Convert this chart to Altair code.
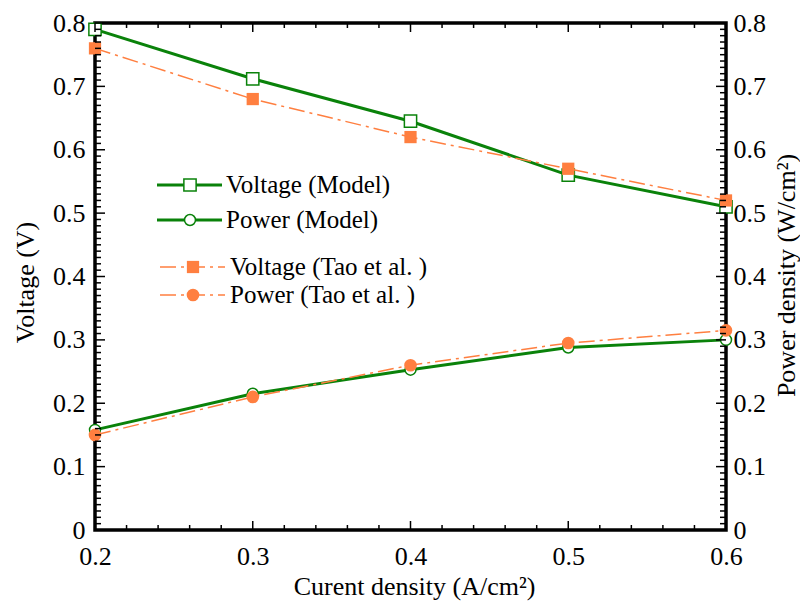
import altair as alt
import pandas as pd

# ---------------- data ----------------
current = [0.2, 0.3, 0.4, 0.5, 0.6]
voltage_model = [0.790, 0.712, 0.645, 0.560, 0.510]
power_model = [0.158, 0.215, 0.253, 0.288, 0.300]
voltage_tao = [0.760, 0.680, 0.620, 0.570, 0.520]
power_tao = [0.150, 0.210, 0.260, 0.295, 0.315]

x_major = [0.2, 0.3, 0.4, 0.5, 0.6]
x_minor = [0.22, 0.24, 0.26, 0.28, 0.32, 0.34, 0.36, 0.38,
           0.42, 0.44, 0.46, 0.48, 0.52, 0.54, 0.56, 0.58]
y_major = [0.0, 0.1, 0.2, 0.3, 0.4, 0.5, 0.6, 0.7, 0.8]
y_minor = [round(i / 100, 2) for i in range(1, 80) if i % 10 != 0]

legend_labels = ["Voltage (Model)", "Power (Model)",
                 "Voltage (Tao et al. )", "Power (Tao et al. )"]

# ---------------- styling ----------------
W, H = 631, 507
GREEN = "#0a820a"
ORANGE = "#ff7f40"
FONT = "Liberation Serif"
DASH = [16, 5, 3, 5]
LFS = 26   # tick label font size
TFS = 26   # axis title font size

df = pd.DataFrame({
    "current": current,
    "vm": voltage_model,
    "pm": power_model,
    "vt": voltage_tao,
    "pt": power_tao,
})

xs = alt.Scale(domain=[0.2, 0.6], nice=False, zero=False)
ys = alt.Scale(domain=[0.0, 0.8], nice=False, zero=False)
LABEL_EXPR = "datum.value == 0 ? '0' : format(datum.value, '.1f')"

common = dict(ticks=False, tickSize=0, domain=False, grid=False,
              labelFont=FONT, labelFontSize=LFS, labelColor="black",
              labelFlush=False, labelOverlap=False,
              titleFont=FONT, titleFontSize=TFS, titleFontWeight="normal",
              titleColor="black")

x_axis = alt.Axis(values=x_major, format=".1f", labelPadding=13,
                  title="Curent density (A/cm²)", titleX=319, titleY=64,
                  titleBaseline="alphabetic", titleAlign="center", **common)
left_axis = alt.Axis(orient="left", values=y_major, labelExpr=LABEL_EXPR,
                     labelPadding=10, title="Voltage (V)", titleAngle=270,
                     titleX=-62, titleY=259, titleBaseline="alphabetic",
                     titleAlign="center", **common)
right_axis = alt.Axis(orient="right", values=y_major, labelExpr=LABEL_EXPR,
                      labelPadding=7, title="Power density (W/cm²)",
                      titleAngle=270, titleX=68, titleY=252,
                      titleBaseline="alphabetic", titleAlign="center", **common)

base = alt.Chart(df)
X = alt.X("current:Q", scale=xs, axis=x_axis)

vm_line = base.mark_line(color=GREEN, strokeWidth=3).encode(
    x=X, y=alt.Y("vm:Q", scale=ys, axis=left_axis))
pm_line = base.mark_line(color=GREEN, strokeWidth=3).encode(
    x=X, y=alt.Y("pm:Q", scale=ys, axis=right_axis))
vm_pts = base.mark_point(shape="square", size=150, filled=True, fill="white",
                         stroke=GREEN, strokeWidth=1.5, opacity=1).encode(
    x=X, y=alt.Y("vm:Q", scale=ys, axis=None))
pm_pts = base.mark_point(shape="circle", size=120, filled=True, fill="white",
                         stroke=GREEN, strokeWidth=1.5, opacity=1).encode(
    x=X, y=alt.Y("pm:Q", scale=ys, axis=None))
vt_line = base.mark_line(color=ORANGE, strokeWidth=1.5, strokeDash=DASH).encode(
    x=X, y=alt.Y("vt:Q", scale=ys, axis=None))
pt_line = base.mark_line(color=ORANGE, strokeWidth=1.5, strokeDash=DASH).encode(
    x=X, y=alt.Y("pt:Q", scale=ys, axis=None))
vt_pts = base.mark_point(shape="square", size=150, filled=True, color=ORANGE,
                         opacity=1).encode(
    x=X, y=alt.Y("vt:Q", scale=ys, axis=None))
pt_pts = base.mark_point(shape="circle", size=160, filled=True, color=ORANGE,
                         opacity=1).encode(
    x=X, y=alt.Y("pt:Q", scale=ys, axis=None))

# ---------------- inward ticks ----------------
def xticks(vals, length):
    d = alt.Chart(pd.DataFrame({"current": vals}))
    bottom = d.mark_rule(color="black", strokeWidth=1.5).encode(
        x=X, y=alt.value(H), y2=alt.value(H - length))
    top = d.mark_rule(color="black", strokeWidth=1.5).encode(
        x=X, y=alt.value(0), y2=alt.value(length))
    return [bottom, top]

def yticks(vals, length):
    d = alt.Chart(pd.DataFrame({"v": vals}))
    yy = alt.Y("v:Q", scale=ys, axis=None)
    left = d.mark_rule(color="black", strokeWidth=1.5).encode(
        y=yy, x=alt.value(0), x2=alt.value(length))
    right = d.mark_rule(color="black", strokeWidth=1.5).encode(
        y=yy, x=alt.value(W), x2=alt.value(W - length))
    return [left, right]

ticks = xticks(x_major, 9) + xticks(x_minor, 5) + yticks(y_major, 10) + yticks(y_minor, 6)

# ---------------- manual legend ----------------
one = alt.Chart(pd.DataFrame({"a": [0]}))
leg_rows = [162, 197, 244, 272]
legend = []
for i, (lab, yy) in enumerate(zip(legend_labels, leg_rows)):
    model = i < 2
    col = GREEN if model else ORANGE
    x0, x1 = (62, 127) if model else (65, 130)
    xm = 95 if model else 98
    xt = 131 if model else 135
    if model:
        legend.append(one.mark_rule(color=col, strokeWidth=3).encode(
            x=alt.value(x0), x2=alt.value(x1), y=alt.value(yy)))
    else:
        legend.append(one.mark_rule(color=col, strokeWidth=1.5, strokeDash=DASH).encode(
            x=alt.value(x0), x2=alt.value(x1), y=alt.value(yy)))
    shape = "square" if i % 2 == 0 else "circle"
    if model:
        legend.append(one.mark_point(shape=shape, size=150 if shape == "square" else 120,
                                     filled=True, fill="white", stroke=col,
                                     strokeWidth=1.5, opacity=1).encode(
            x=alt.value(xm), y=alt.value(yy)))
    else:
        legend.append(one.mark_point(shape=shape, size=150 if shape == "square" else 160,
                                     filled=True, color=col, opacity=1).encode(
            x=alt.value(xm), y=alt.value(yy)))
    legend.append(one.mark_text(text=lab, font=FONT, fontSize=25, align="left",
                                baseline="middle", color="black").encode(
        x=alt.value(xt), y=alt.value(yy)))

layers = [vm_line, pm_line, vm_pts, pm_pts, vt_line, pt_line, vt_pts, pt_pts] + ticks + legend

chart = alt.layer(*layers).resolve_scale(y="independent").properties(
    width=W, height=H,
    background="white",
    autosize=alt.AutoSizeParams(type="none"),
    padding={"left": 87, "top": 15, "right": 74, "bottom": 74},
).configure(
    font=FONT,
    style={"guide-label": {"font": FONT, "fontSize": LFS, "fill": "black"},
           "guide-title": {"font": FONT, "fontSize": TFS, "fill": "black"}},
).configure_view(
    stroke="black", strokeWidth=3.5
).configure_axis(
    labelFont=FONT, titleFont=FONT
)

chart.save("out.html", embed_options={"renderer": "svg", "actions": False})
